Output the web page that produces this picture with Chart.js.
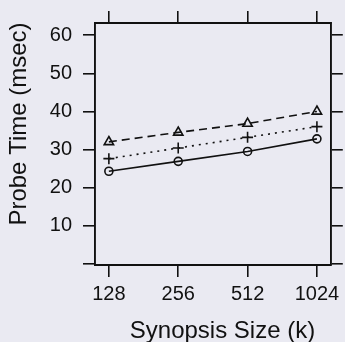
<!DOCTYPE html>
<html>
<head>
<meta charset="utf-8">
<script src="https://cdn.jsdelivr.net/npm/chart.js@4/dist/chart.umd.min.js"></script>
<style>
html,body{margin:0;padding:0;background:#EAEAF2;}
canvas{display:block;}
</style>
</head>
<body>
<canvas id="c" width="345" height="342"></canvas>
<script>
const categories = ['128', '256', '512', '1024'];
const circleSeries = [24.3, 26.9, 29.5, 32.8];
const plusSeries = [27.6, 30.4, 33.2, 36.0];
const triangleSeries = [32.0, 34.5, 36.8, 40.0];
const yTicks = [0, 10, 20, 30, 40, 50, 60];
const xTitle = 'Synopsis Size (k)';
const yTitle = 'Probe Time (msec)';

const FONT = '"Liberation Sans", Arial, Helvetica, sans-serif';
const INK = '#111111';
const BG = '#EAEAF2';

const toPts = arr => arr.map((v, i) => ({x: i, y: v}));
const xTickBuild = s => { s.ticks = categories.map((c, i) => ({value: i})); };
const yTickBuild = s => { s.ticks = yTicks.map(v => ({value: v})); };

const gridOpts = {drawOnChartArea: false, drawTicks: true, tickLength: 12, color: INK, lineWidth: 1.6};
const borderOpts = {display: true, color: INK, width: 1.9};

const bgPlugin = {
  id: 'bg',
  beforeDraw(chart) {
    const ctx = chart.ctx;
    ctx.save();
    ctx.fillStyle = BG;
    ctx.fillRect(0, 0, chart.width, chart.height);
    ctx.restore();
  }
};

const titlePlugin = {
  id: 'titles',
  afterDraw(chart) {
    const ctx = chart.ctx;
    ctx.save();
    ctx.fillStyle = INK;
    ctx.font = '24px ' + FONT;
    ctx.textAlign = 'center';
    ctx.textBaseline = 'alphabetic';
    ctx.fillText(xTitle, 222.5, 338);
    ctx.translate(25.5, 124);
    ctx.rotate(-Math.PI / 2);
    ctx.fillText(yTitle, 0, 0);
    ctx.restore();
  }
};

const common = {
  fill: false,
  borderColor: INK,
  borderWidth: 1.6,
  pointBorderColor: INK,
  pointBackgroundColor: 'rgba(0,0,0,0)',
  pointBorderWidth: 1.6,
  tension: 0
};

new Chart(document.getElementById('c'), {
  type: 'line',
  data: {
    datasets: [
      Object.assign({label: 'circle', data: toPts(circleSeries), pointStyle: 'circle', pointRadius: 4}, common),
      Object.assign({label: 'plus', data: toPts(plusSeries), pointStyle: 'cross', pointRadius: 5.5, borderDash: [2, 5]}, common),
      Object.assign({label: 'triangle', data: toPts(triangleSeries), pointStyle: 'triangle', pointRadius: 5.4, borderDash: [8, 5]}, common)
    ]
  },
  options: {
    responsive: false,
    animation: false,
    events: [],
    layout: {padding: 0},
    plugins: {legend: {display: false}, tooltip: {enabled: false}},
    scales: {
      x: {
        type: 'linear', position: 'bottom', min: -0.2, max: 3.2,
        afterBuildTicks: xTickBuild,
        afterFit: s => { s.height = 77; },
        grid: gridOpts, border: borderOpts,
        ticks: {
          autoSkip: false, maxRotation: 0, padding: 5, color: INK,
          font: {family: FONT, size: 20},
          callback: v => categories[v]
        }
      },
      x2: {
        type: 'linear', position: 'top', min: -0.2, max: 3.2,
        afterBuildTicks: xTickBuild,
        afterFit: s => { s.height = 19; },
        grid: gridOpts, border: borderOpts,
        ticks: {display: false}
      },
      y: {
        type: 'linear', position: 'left', min: -0.3, max: 63.2,
        afterBuildTicks: yTickBuild,
        afterFit: s => { s.width = 95; },
        grid: gridOpts, border: borderOpts,
        ticks: {
          padding: 11, color: INK,
          font: {family: FONT, size: 20},
          callback: v => (v === 0 ? '' : String(v))
        }
      },
      y2: {
        type: 'linear', position: 'right', min: -0.3, max: 63.2,
        afterBuildTicks: yTickBuild,
        afterFit: s => { s.width = 12; },
        grid: gridOpts, border: borderOpts,
        ticks: {display: false}
      }
    }
  },
  plugins: [bgPlugin, titlePlugin]
});
</script>
</body>
</html>
